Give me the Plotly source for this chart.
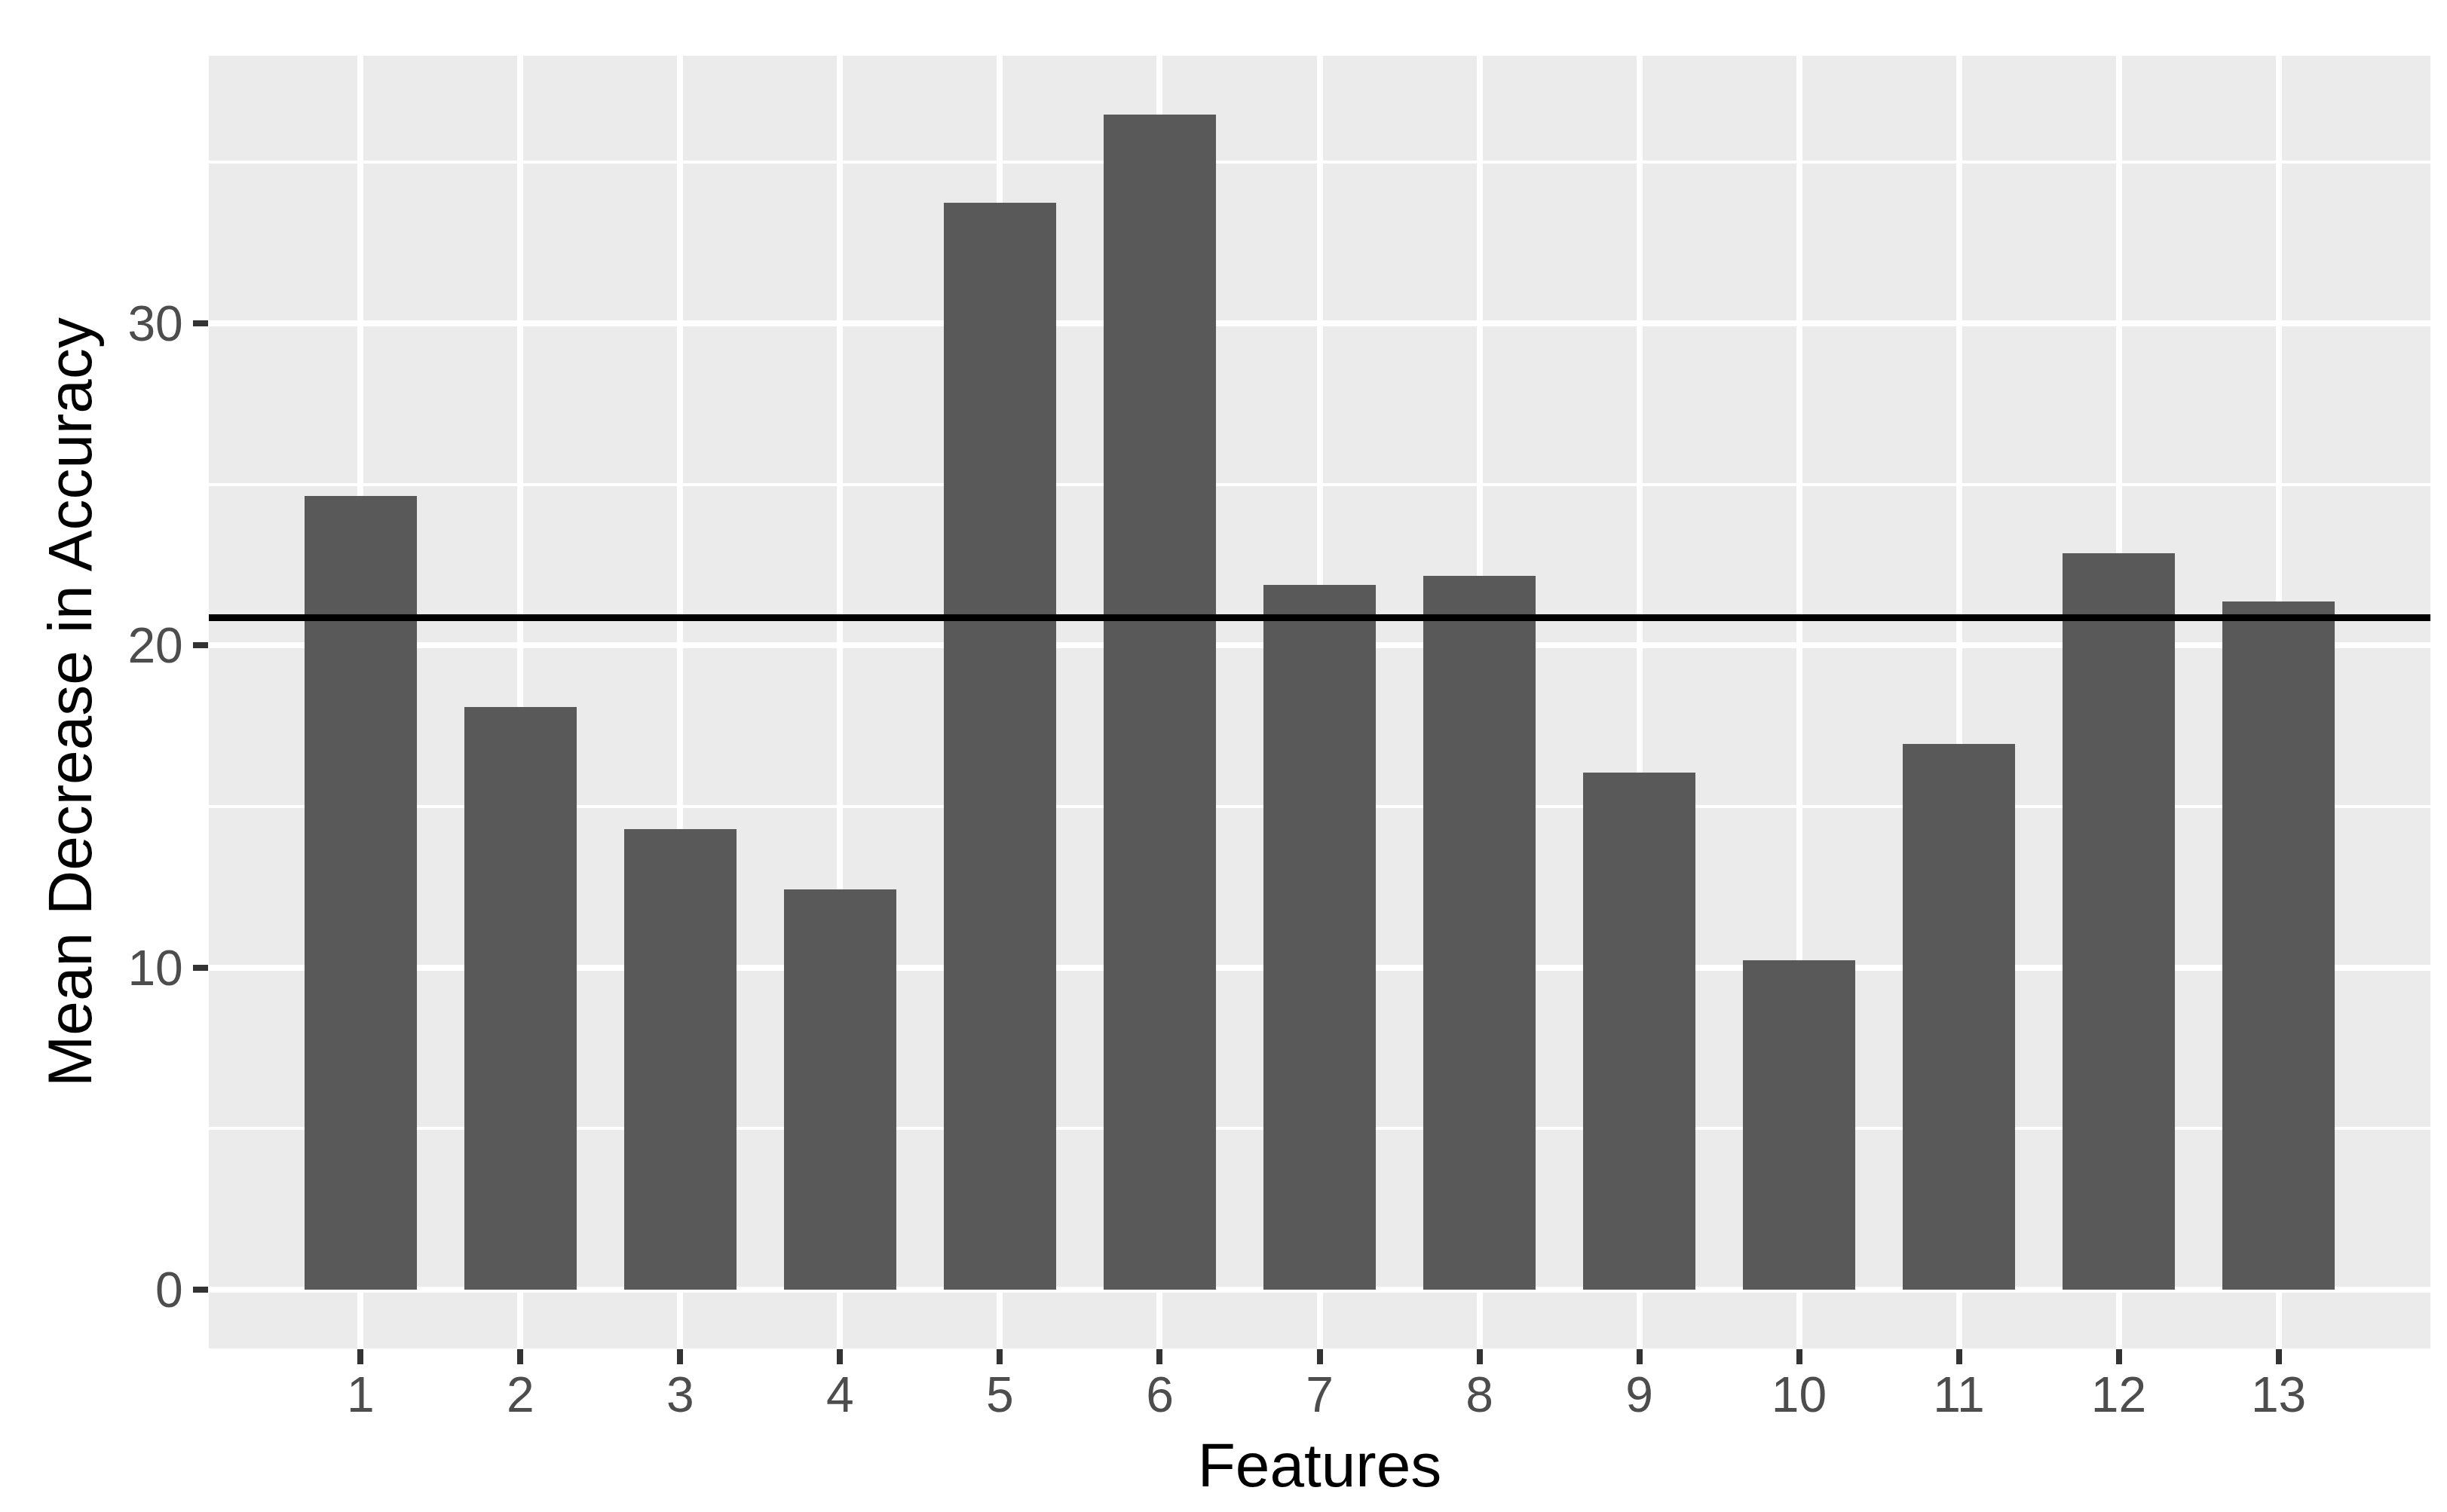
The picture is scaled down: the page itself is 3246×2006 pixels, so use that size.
import plotly.graph_objects as go
import numpy as np

features = list(range(1, 14))
mean_decrease = [24.64, 18.08, 14.29, 12.43, 33.74, 36.48, 21.89, 22.16, 16.06, 10.22, 16.94, 22.87, 21.36]
y_tick_vals = [0, 10, 20, 30]
y_tick_text = ["0", "10", "20", "30"]

mean_val = float(np.mean(mean_decrease))

fig = go.Figure()
fig.add_trace(go.Bar(
    x=features, y=mean_decrease, width=0.7,
    marker=dict(color="#595959", line=dict(width=0)),
    showlegend=False,
))
fig.add_shape(type="line", xref="paper", x0=0, x1=1, yref="y", y0=mean_val, y1=mean_val,
              line=dict(color="black", width=9), layer="above")

ymax = max(mean_decrease)
pad = 0.05 * ymax

fig.update_layout(
    width=3246, height=2006,
    margin=dict(l=269, r=30, t=66, b=225),
    paper_bgcolor="white", plot_bgcolor="#EBEBEB",
    font=dict(family="Liberation Sans, Arial, sans-serif", color="#4D4D4D"),
    bargap=0,
)
fig.update_xaxes(
    range=[0.05, 13.95], tickvals=features, ticktext=[str(f) for f in features],
    showgrid=True, gridcolor="white", gridwidth=8,
    ticks="outside", ticklen=20, tickwidth=8, tickcolor="#333333",
    tickfont=dict(size=66, color="#4D4D4D"), ticklabelstandoff=-16,
    showline=False, zeroline=False,
    title=dict(text="Features", font=dict(size=82, color="black"), standoff=28),
)
fig.update_yaxes(
    range=[-pad, ymax + pad], tickvals=y_tick_vals, ticktext=y_tick_text,
    showgrid=True, gridcolor="white", gridwidth=8,
    minor=dict(tickvals=[5, 15, 25, 35], showgrid=True, gridcolor="white", gridwidth=4, ticks=""),
    ticks="outside", ticklen=20, tickwidth=8, tickcolor="#333333",
    tickfont=dict(size=66, color="#4D4D4D"),
    showline=False, zeroline=False,
    title=dict(text="Mean Decrease in Accuracy", font=dict(size=82, color="black"), standoff=20),
)

fig.write_html("out.html")
